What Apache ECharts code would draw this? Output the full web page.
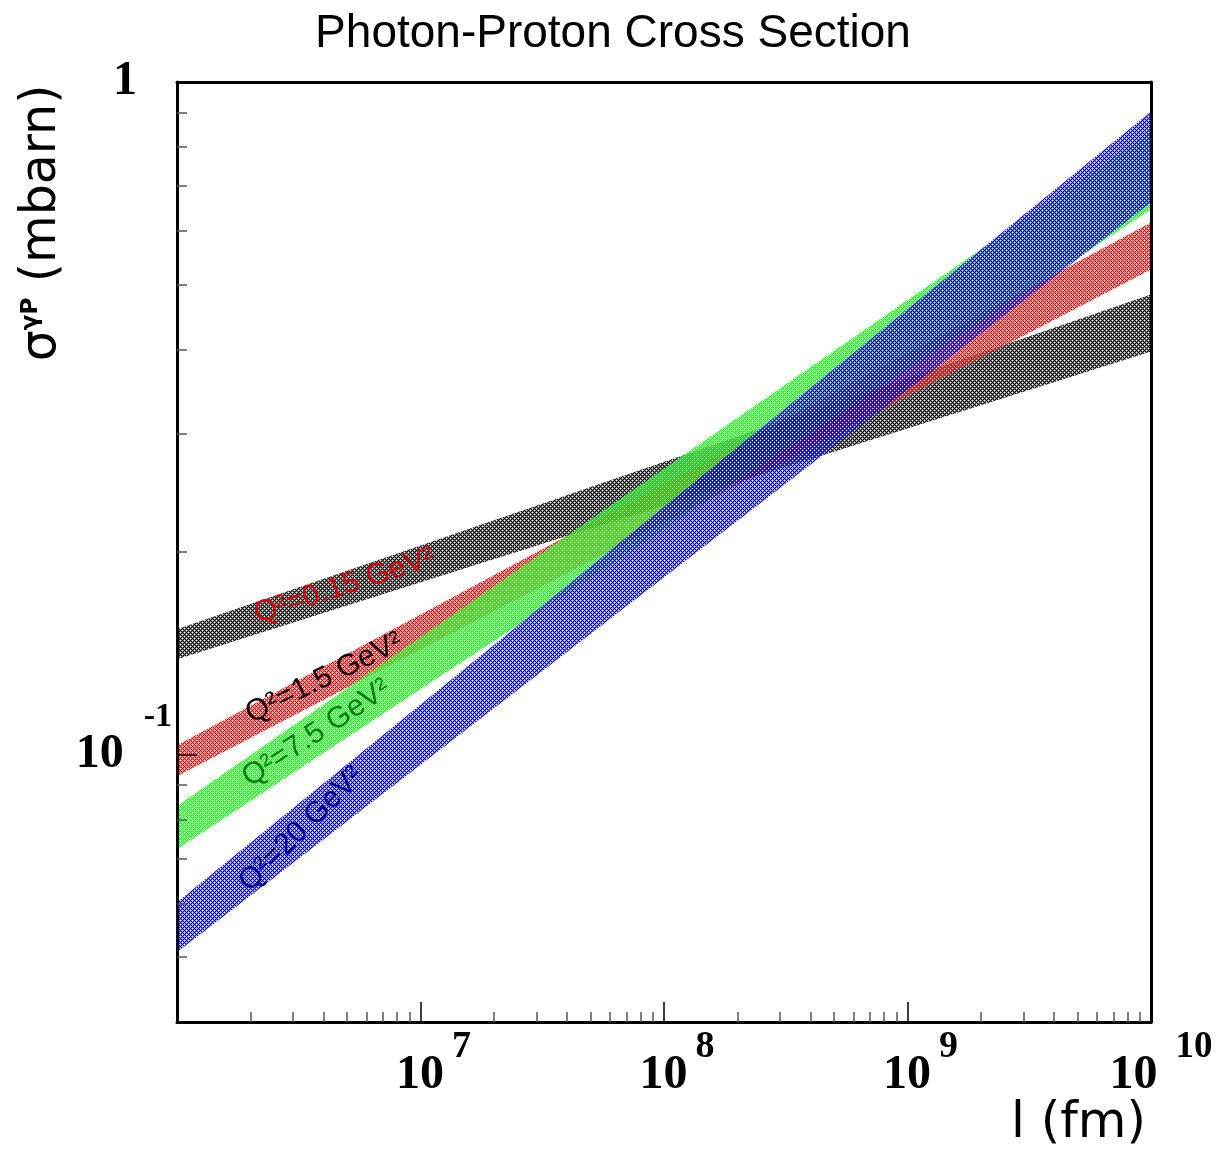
<!DOCTYPE html>
<html>
<head>
<meta charset="utf-8">
<script src="https://cdn.jsdelivr.net/npm/echarts@6/dist/echarts.min.js"></script>
<style>
  html, body { margin: 0; padding: 0; background: #fff; }
  #chart { width: 1218px; height: 1153px; }
</style>
</head>
<body>
<div id="chart"></div>
<script>
// Photon-proton cross section bands (mbarn) versus length l (fm), log-log.
const lengthFm = [1e6, 1e10];

const sigmaQ2_015_low  = [0.1385, 0.3975];
const sigmaQ2_015_high = [0.1535, 0.483];
const sigmaQ2_15_low   = [0.0928, 0.526];
const sigmaQ2_15_high  = [0.1032, 0.618];
const sigmaQ2_75_low   = [0.0723, 0.646];
const sigmaQ2_75_high  = [0.0838, 0.844];
const sigmaQ2_20_low   = [0.0508, 0.662];
const sigmaQ2_20_high  = [0.0603, 0.904];

// Band annotations: text, anchor (l, sigma) and reading angle in degrees
const labelTexts  = ['Q\u00b2=0.15 GeV\u00b2', 'Q\u00b2=1.5 GeV\u00b2', 'Q\u00b2=7.5 GeV\u00b2', 'Q\u00b2=20 GeV\u00b2'];
const labelL      = [4.87e6, 4.03e6, 3.74e6, 3.24e6];
const labelSigma  = [0.178, 0.1298, 0.1075, 0.0774];
const labelAngles = [18, 26, 33.5, 45];

// Axis ticks and tick labels
const xMajorTicks = [1e7, 1e8, 1e9, 1e10];
const xTickBase = ['10', '10', '10', '10'];
const xTickExponents = ['7', '8', '9', '10'];
const yMajorTicks = [0.1, 1];
const yTickBase = ['10', '1'];
const yTickExponents = ['-1', ''];

// Minor ticks at 2..9 of every decade
const xMinorTicks = [];
for (let k = 6; k <= 9; k++) for (let m = 2; m <= 9; m++) xMinorTicks.push(m * Math.pow(10, k));
const yMinorTicks = [];
for (let k = -2; k <= -1; k++) for (let m = 2; m <= 9; m++) {
  const v = m * Math.pow(10, k);
  if (v > 0.04 + 1e-9) yMinorTicks.push(v);
}

// Cross-hatched fill tile: solid dots, soft edges, transparent holes
function hatch(color) {
  const c = document.createElement('canvas');
  c.width = 4; c.height = 4;
  const g = c.getContext('2d');
  g.fillStyle = color;
  g.fillRect(0, 0, 4, 4);
  const holes = [[0, 0], [2, 2]];
  const soft = [[1, 0], [3, 0], [0, 1], [0, 3], [1, 2], [3, 2], [2, 1], [2, 3]];
  holes.forEach(([x, y]) => g.clearRect(x, y, 1, 1));
  soft.forEach(([x, y]) => {
    g.clearRect(x, y, 1, 1);
    g.globalAlpha = 0.5;
    g.fillRect(x, y, 1, 1);
    g.globalAlpha = 1;
  });
  return { image: c, repeat: 'repeat' };
}

const bands = [
  { name: 'Q2=0.15', low: sigmaQ2_015_low, high: sigmaQ2_015_high, color: '#000000' },
  { name: 'Q2=1.5',  low: sigmaQ2_15_low,  high: sigmaQ2_15_high,  color: '#ff0000' },
  { name: 'Q2=7.5',  low: sigmaQ2_75_low,  high: sigmaQ2_75_high,  color: '#00ff00' },
  { name: 'Q2=20',   low: sigmaQ2_20_low,  high: sigmaQ2_20_high,  color: '#0000ff' }
];
const labelColors = ['#e00000', '#000000', '#007a00', '#000080'];

function idx(list, v) {
  return list.findIndex(t => Math.abs(t - v) / t < 1e-6);
}

const serif = '"Liberation Serif", "Times New Roman", serif';
const sans = '"Liberation Sans", Arial, sans-serif';
const roundSans = '"DejaVu Sans", sans-serif';

const bandSeries = bands.map(b => {
  const fill = hatch(b.color);
  return {
    type: 'custom',
    name: b.name,
    coordinateSystem: 'cartesian2d',
    clip: true,
    z: 2,
    silent: true,
    data: lengthFm.map((x, i) => [x, b.low[i], b.high[i]]),
    renderItem: function (params, api) {
      const i = params.dataIndex;
      if (i >= lengthFm.length - 1) return null;
      const pts = [
        api.coord([lengthFm[i], b.high[i]]),
        api.coord([lengthFm[i + 1], b.high[i + 1]]),
        api.coord([lengthFm[i + 1], b.low[i + 1]]),
        api.coord([lengthFm[i], b.low[i]])
      ];
      return { type: 'polygon', shape: { points: pts }, style: { fill: fill, stroke: null } };
    }
  };
});

const labelSeries = {
  type: 'custom',
  coordinateSystem: 'cartesian2d',
  z: 5,
  silent: true,
  data: labelTexts.map((t, i) => [labelL[i], labelSigma[i]]),
  renderItem: function (params, api) {
    const i = params.dataIndex;
    const p = api.coord([labelL[i], labelSigma[i]]);
    return {
      type: 'text',
      x: p[0], y: p[1],
      rotation: labelAngles[i] * Math.PI / 180,
      style: {
        text: labelTexts[i],
        fill: labelColors[i],
        font: '30px ' + sans,
        align: 'center',
        verticalAlign: 'middle'
      }
    };
  }
};

const axisLineStyle = { color: '#000', width: 3 };

const option = {
  animation: false,
  backgroundColor: '#fff',
  grid: { left: 177, right: 67, top: 82, bottom: 131, outerBoundsMode: 'none', containLabel: false },
  xAxis: [
    {
      type: 'log', logBase: 10, min: 1e6, max: 1e10, position: 'bottom', z: 10,
      axisLine: { show: true, onZero: false, lineStyle: axisLineStyle },
      axisTick: { show: true, inside: true, length: 20, customValues: xMajorTicks, lineStyle: { color: '#000', width: 1.5 } },
      splitLine: { show: false },
      minorTick: { show: false },
      axisLabel: {
        show: true,
        customValues: xMajorTicks,
        margin: 30,
        formatter: function (v) {
          const i = idx(xMajorTicks, v);
          if (i < 0) return '';
          const last = i === xMajorTicks.length - 1;
          return last ? '{bl|' + xTickBase[i] + '}{el|' + xTickExponents[i] + '}'
                      : '{b|' + xTickBase[i] + '}{e|' + xTickExponents[i] + '}';
        },
        rich: {
          b:  { fontFamily: serif, fontWeight: 'bold', fontSize: 48, lineHeight: 48, color: '#000', padding: [0, 0, 0, 26], verticalAlign: 'middle' },
          e:  { fontFamily: serif, fontWeight: 'bold', fontSize: 38, lineHeight: 38, color: '#000', padding: [0, 0, 58, 8], verticalAlign: 'middle' },
          bl: { fontFamily: serif, fontWeight: 'bold', fontSize: 48, lineHeight: 48, color: '#000', padding: [0, 0, 0, 20], verticalAlign: 'middle' },
          el: { fontFamily: serif, fontWeight: 'bold', fontSize: 37, lineHeight: 38, color: '#000', padding: [0, 0, 58, 18], verticalAlign: 'middle' }
        }
      }
    },
    {
      type: 'log', logBase: 10, min: 1e6, max: 1e10, position: 'bottom', z: 10,
      axisLine: { show: false },
      axisTick: { show: true, inside: true, length: 10, customValues: xMinorTicks, lineStyle: { color: '#555', width: 1.5 } },
      axisLabel: { show: false },
      splitLine: { show: false }
    },
    {
      type: 'log', logBase: 10, min: 1e6, max: 1e10, position: 'top', z: 10,
      axisLine: { show: true, onZero: false, lineStyle: axisLineStyle },
      axisTick: { show: false }, axisLabel: { show: false }, splitLine: { show: false }
    }
  ],
  yAxis: [
    {
      type: 'log', logBase: 10, min: 0.04, max: 1, position: 'left', z: 10,
      axisLine: { show: true, onZero: false, lineStyle: axisLineStyle },
      axisTick: { show: true, inside: true, length: 20, customValues: yMajorTicks, lineStyle: { color: '#000', width: 1.5 } },
      splitLine: { show: false },
      axisLabel: {
        show: true,
        customValues: yMajorTicks,
        margin: 5,
        formatter: function (v) {
          const i = idx(yMajorTicks, v);
          if (i < 0) return '';
          if (!yTickExponents[i]) return '{one|' + yTickBase[i] + '}';
          return '{b|' + yTickBase[i] + '}{e|' + yTickExponents[i] + '}';
        },
        rich: {
          one: { fontFamily: serif, fontWeight: 'bold', fontSize: 48, lineHeight: 48, color: '#000', padding: [0, 35, 0, 0], verticalAlign: 'middle' },
          b:   { fontFamily: serif, fontWeight: 'bold', fontSize: 48, lineHeight: 48, color: '#000', verticalAlign: 'middle' },
          e:   { fontFamily: serif, fontWeight: 'bold', fontSize: 34, lineHeight: 34, color: '#000', padding: [0, 0, 74, 20], verticalAlign: 'middle' }
        }
      }
    },
    {
      type: 'log', logBase: 10, min: 0.04, max: 1, position: 'left', z: 10,
      axisLine: { show: false },
      axisTick: { show: true, inside: true, length: 10, customValues: yMinorTicks, lineStyle: { color: '#555', width: 1.5 } },
      axisLabel: { show: false },
      splitLine: { show: false }
    },
    {
      type: 'log', logBase: 10, min: 0.04, max: 1, position: 'right', z: 10,
      axisLine: { show: true, onZero: false, lineStyle: axisLineStyle },
      axisTick: { show: false }, axisLabel: { show: false }, splitLine: { show: false }
    }
  ],
  graphic: [
    {
      type: 'text', x: 613, y: 34, z: 20,
      style: { text: 'Photon-Proton Cross Section', font: '46px ' + sans, fill: '#000', align: 'center', verticalAlign: 'middle' }
    },
    {
      type: 'text', x: 1146, y: 1124, z: 20,
      style: { text: 'l (fm)', font: '50px ' + roundSans, fill: '#000', align: 'right', verticalAlign: 'middle' }
    },
    {
      type: 'text', x: 42, y: 223, z: 20, rotation: Math.PI / 2,
      style: {
        text: '{a|\u03c3}{s|\u03b3P}{a| (mbarn)}',
        align: 'center', verticalAlign: 'middle',
        rich: {
          a: { fontFamily: roundSans, fontSize: 49, lineHeight: 52, fill: '#000', verticalAlign: 'middle' },
          s: { fontFamily: roundSans, fontSize: 23, fontWeight: 'bold', lineHeight: 23, fill: '#000', padding: [0, 0, 22, 0], verticalAlign: 'middle' }
        }
      }
    }
  ],
  series: bandSeries.concat([labelSeries])
};

// Every series lives on the first x/y axis pair
option.series.forEach(s => { s.xAxisIndex = 0; s.yAxisIndex = 0; });

const chart = echarts.init(document.getElementById('chart'), null, { renderer: 'canvas' });
chart.setOption(option);
</script>
</body>
</html>
